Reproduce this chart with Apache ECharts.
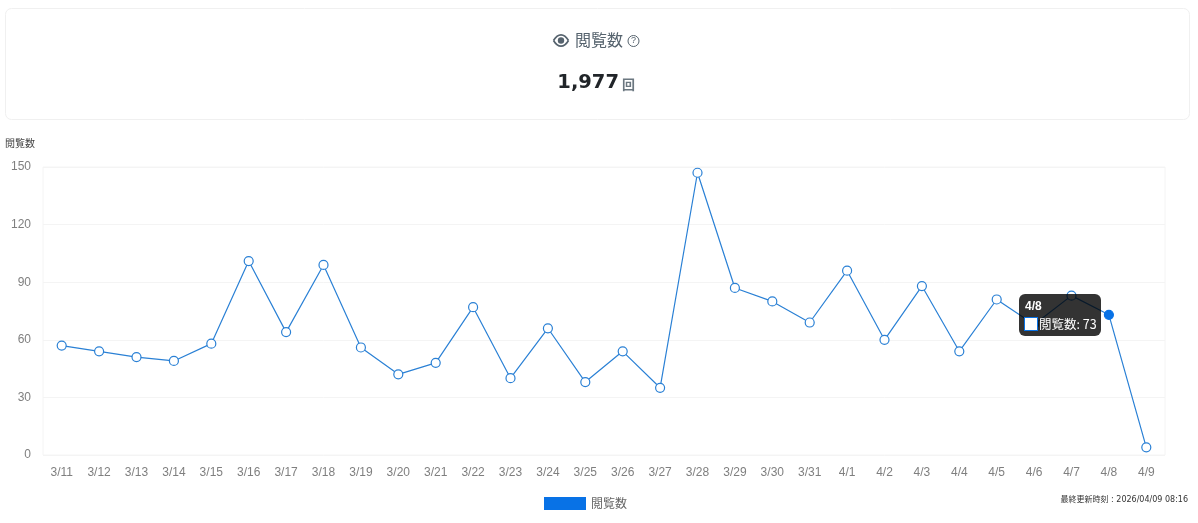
<!DOCTYPE html>
<html>
<head>
<meta charset="utf-8">
<style>html,body{margin:0;padding:0;background:#fff;overflow:hidden}#c{width:1198px;height:523px}</style>
<script src="https://cdn.jsdelivr.net/npm/echarts@6/dist/echarts.min.js"></script>
</head>
<body>
<div id="c"></div>
<script>
const categories = ['3/11','3/12','3/13','3/14','3/15','3/16','3/17','3/18','3/19','3/20','3/21','3/22','3/23','3/24','3/25','3/26','3/27','3/28','3/29','3/30','3/31','4/1','4/2','4/3','4/4','4/5','4/6','4/7','4/8','4/9'];
const views = [57,54,51,49,58,101,64,99,56,42,48,77,40,66,38,54,35,147,87,80,69,96,60,88,54,81,68,83,73,4];
const seriesName = '閲覧数';
const activeIndex = 28;
const cardTitle = '閲覧数';
const cardTotal = '1,977';
const cardUnit = '回';
const updatedAt = '最終更新時刻 : 2026/04/09 08:16';

const JP = '"Noto Sans CJK JP","Liberation Sans",sans-serif';
const LAT = '"Liberation Sans",Arial,sans-serif';
const BLUE = '#0872e6';
const chart = echarts.init(document.getElementById('c'), null, {renderer:'canvas'});
chart.setOption({
  animation:false,
  backgroundColor:'#fff',
  grid:{left:43,right:33,top:167,bottom:68,show:true,borderColor:'#f4f4f4',borderWidth:1},
  legend:{
    data:[{name:seriesName,icon:'rect',itemStyle:{color:BLUE,borderWidth:0}}],
    left:539,top:492,itemWidth:42,itemHeight:13,itemGap:5,
    textStyle:{fontFamily:JP,fontSize:12,color:'#666'}
  },
  tooltip:{
    trigger:'item',alwaysShowContent:true,transitionDuration:0,
    backgroundColor:'rgba(0,0,0,0.8)',borderWidth:0,padding:0,
    extraCssText:'box-shadow:none;border-radius:6px;',
    position:[1019,294],
    formatter:p=>`<div style="width:82px;height:42px;box-sizing:border-box;padding:5px 6px;color:#fff;font:bold 12px/14px ${LAT.replace(/"/g,"'")}">${p.name}<div style="display:flex;align-items:center;font:12.5px/16px 'Noto Sans CJK JP',sans-serif;margin-top:3px;margin-left:-1px;white-space:nowrap"><span style="display:inline-block;width:12px;height:12px;background:#fff;border:1px solid ${BLUE};margin-right:1px;flex:none"></span>${p.seriesName}: ${p.value}</div></div>`
  },
  xAxis:{
    type:'category',data:categories,boundaryGap:true,
    axisLine:{show:false},axisTick:{show:false},
    axisLabel:{interval:0,margin:12,fontFamily:LAT,fontSize:12,color:'#7f7f7f'},
    splitLine:{show:false}
  },
  yAxis:{
    type:'value',min:0,max:150,interval:30,
    name:seriesName,nameLocation:'end',nameGap:0,
    nameTextStyle:{fontFamily:JP,fontSize:10,color:'#444',align:'left',padding:[0,0,19,-38]},
    axisLine:{show:false},axisTick:{show:false},
    axisLabel:{margin:12,padding:[4,0,0,0],fontFamily:LAT,fontSize:12,color:'#7f7f7f'},
    splitLine:{lineStyle:{color:'#f4f4f4',width:1}}
  },
  series:[{
    name:seriesName,type:'line',
    data:views.map((v,i)=>i===activeIndex?{value:v,symbolSize:9,itemStyle:{color:BLUE,borderColor:BLUE}}:v),
    symbol:'circle',symbolSize:9,showAllSymbols:true,showSymbol:true,
    lineStyle:{color:'#2a80d5',width:1.2},
    itemStyle:{color:'#fff',borderColor:'#2a80d5',borderWidth:1.2},
    emphasis:{disabled:true}
  }],
  color:[BLUE],
  graphic:[
    {type:'rect',shape:{x:5.5,y:8.5,width:1184,height:111,r:6},style:{fill:'#fff',stroke:'#f0f0f0',lineWidth:1},silent:true},
    // eye icon
    {type:'bezierCurve',silent:true,shape:{x1:553.5,y1:40.5,cpx1:558,cpy1:33,cpx2:564,cpy2:33,x2:568.5,y2:40.5},style:{fill:'none',stroke:'#56636e',lineWidth:1.7}},
    {type:'bezierCurve',silent:true,shape:{x1:553.5,y1:40.5,cpx1:558,cpy1:48,cpx2:564,cpy2:48,x2:568.5,y2:40.5},style:{fill:'none',stroke:'#56636e',lineWidth:1.7}},
    {type:'circle',silent:true,shape:{cx:561,cy:40.5,r:3.2},style:{fill:'#56636e'}},
    {type:'text',silent:true,style:{text:cardTitle,x:575,y:40,fontFamily:JP,fontSize:16,fill:'#56636e',verticalAlign:'middle'}},
    {type:'circle',silent:true,shape:{cx:633.5,cy:41,r:5.5},style:{fill:'none',stroke:'#56636e',lineWidth:1}},
    {type:'text',silent:true,style:{text:'?',x:633.5,y:41,align:'center',verticalAlign:'middle',fontFamily:LAT,fontSize:9,fill:'#56636e'}},
    {type:'text',silent:true,style:{text:cardTotal,x:619,y:83,align:'right',verticalAlign:'middle',fontFamily:'"DejaVu Sans",sans-serif',fontWeight:'bold',fontSize:19.5,fill:'#212529'}},
    {type:'text',silent:true,style:{text:cardUnit,x:622,y:84,verticalAlign:'middle',fontFamily:JP,fontWeight:'bold',fontSize:13,fill:'#6b7780'}},
    {type:'text',silent:true,style:{text:updatedAt,x:1188,y:500,align:'right',verticalAlign:'middle',fontFamily:'"DejaVu Sans","Noto Sans CJK JP",sans-serif',fontSize:8,fill:'#333'}}
  ]
});
chart.dispatchAction({type:'showTip',seriesIndex:0,dataIndex:activeIndex});
</script>
</body>
</html>
